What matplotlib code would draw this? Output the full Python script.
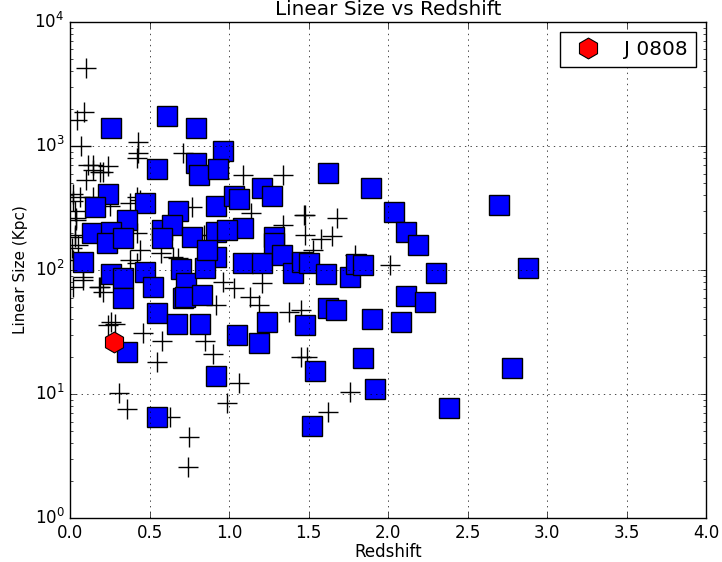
import matplotlib
matplotlib.use('Agg')
import matplotlib.pyplot as plt

plt.style.use('classic')

# sample sources (plus markers)
plus_z = [0.10, 0.088, 0.044, 0.07, 0.43, 0.43, 0.71,
          1.09, 1.34, 0.145, 0.21, 0.10, 0.02, 0.42, 0.77, 1.14, 1.34, 1.47, 0.04, 0.77,
          0.03, 0.08, 0.18, 0.28, 0.24, 0.46, 0.58, 0.55, 0.31, 0.36, 0.75, 0.74, 1.06, 0.99, 0.90, 0.85,
          0.42, 0.65, 0.84, 0.92, 0.96, 1.03, 1.13, 1.19, 1.21, 1.38, 1.45, 0.63,
          1.48, 1.68, 1.48, 1.58, 1.65, 1.53, 1.79, 2.01, 1.45, 1.49, 1.76, 1.62,
          0.145, 0.19, 0.11, 0.24, 0.06, 0.145, 0.02, 0.04, 0.42, 0.44, 0.38, 0.25, 0.03,
          0.08, 0.02, 0.19, 0.21, 0.26, 0.42, 0.44, 0.57, 0.68, 0.38,
          0.01, 0.03, 0.02, 0.05]
plus_size = [4260, 1880, 1620, 1000, 1077, 880, 878,
             584, 584, 703, 617, 532, 410, 388, 322, 288, 231, 278, 253, 185,
             185, 83, 73, 37, 36, 31, 27, 18, 10.2, 7.6, 4.5, 2.6, 12.3, 8.5, 21, 27,
             114, 127, 191, 52, 80, 72, 61, 52, 79, 46, 20, 6.5,
             278, 262, 191, 178, 188, 145, 132, 110, 48, 20, 10.4, 7.2,
             640, 617, 703, 690, 390, 390, 360, 262, 800, 370, 347, 330, 191,
             88, 73, 73, 66, 38, 199, 145, 137, 125, 120,
             150, 300, 120, 160]

# comparison sources (blue squares)
sq_z = [0.61, 0.26, 0.79, 0.96, 0.79, 0.81, 0.93, 0.55,
        0.24, 0.16, 0.47, 0.36, 0.68, 0.92, 1.03, 1.06, 1.21, 1.27,
        0.14, 0.26, 0.58, 0.64, 0.92, 1.09, 1.28, 0.99, 0.77, 0.58,
        0.08, 0.23, 0.33, 0.26, 0.33, 0.33, 0.47, 0.52, 0.55, 0.67, 0.82, 0.70, 0.71, 0.73,
        0.92, 0.85, 0.86, 1.09, 1.21, 1.28, 1.33, 1.40, 1.46, 0.72, 0.83,
        1.05, 1.19, 1.24, 1.48, 0.36, 0.92, 0.55, 1.54, 1.52,
        1.62, 1.89, 2.04, 2.11, 2.19, 2.70, 2.30, 2.88, 1.50, 1.61, 1.76, 1.80, 1.84,
        2.11, 2.23, 1.62, 1.67, 1.90, 2.08, 1.84, 2.78, 1.92, 2.38]
sq_size = [1746, 1396, 1396, 912, 729, 584, 653, 653,
           410, 322, 347, 253, 299, 328, 395, 374, 458, 395,
           199, 202, 210, 231, 202, 218, 185, 210, 185, 181,
           116, 165, 181, 93, 86, 59, 96, 73, 45, 37, 37, 102, 59, 78,
           127, 104, 145, 114, 114, 165, 132, 95, 116, 61, 63,
           30, 26, 38, 36, 22, 14, 6.5, 15.3, 5.5,
           606, 458, 294, 202, 159, 334, 95, 104, 114, 93, 88, 112, 110,
           62, 55, 49, 48, 40, 38, 19.5, 16.2, 11, 7.7]

target_z = [0.277]
target_size = [26.3]

fig = plt.figure(figsize=(7.22, 5.62), dpi=100)
ax = fig.add_axes([0.097, 0.078, 0.881, 0.883])

ax.plot(plus_z, plus_size, '+', color='k', markersize=14, markeredgewidth=1.0)
ax.plot(sq_z, sq_size, 's', color='b', markersize=15, markeredgecolor='k', markeredgewidth=1.0)
ax.plot(target_z, target_size, 'h', color='r', markersize=15, markeredgecolor='k',
        markeredgewidth=0.8, label='J 0808')

ax.set_yscale('log')
ax.set_xlim(0, 4)
ax.set_ylim(1, 1e4)
ax.grid(True)
ax.set_title('Linear Size vs Redshift')
ax.set_xlabel('Redshift', labelpad=1)
ax.set_ylabel('Linear Size (Kpc)', fontsize=11)
ax.legend(loc='upper right', numpoints=1)

fig.savefig('out.png', dpi=100)
